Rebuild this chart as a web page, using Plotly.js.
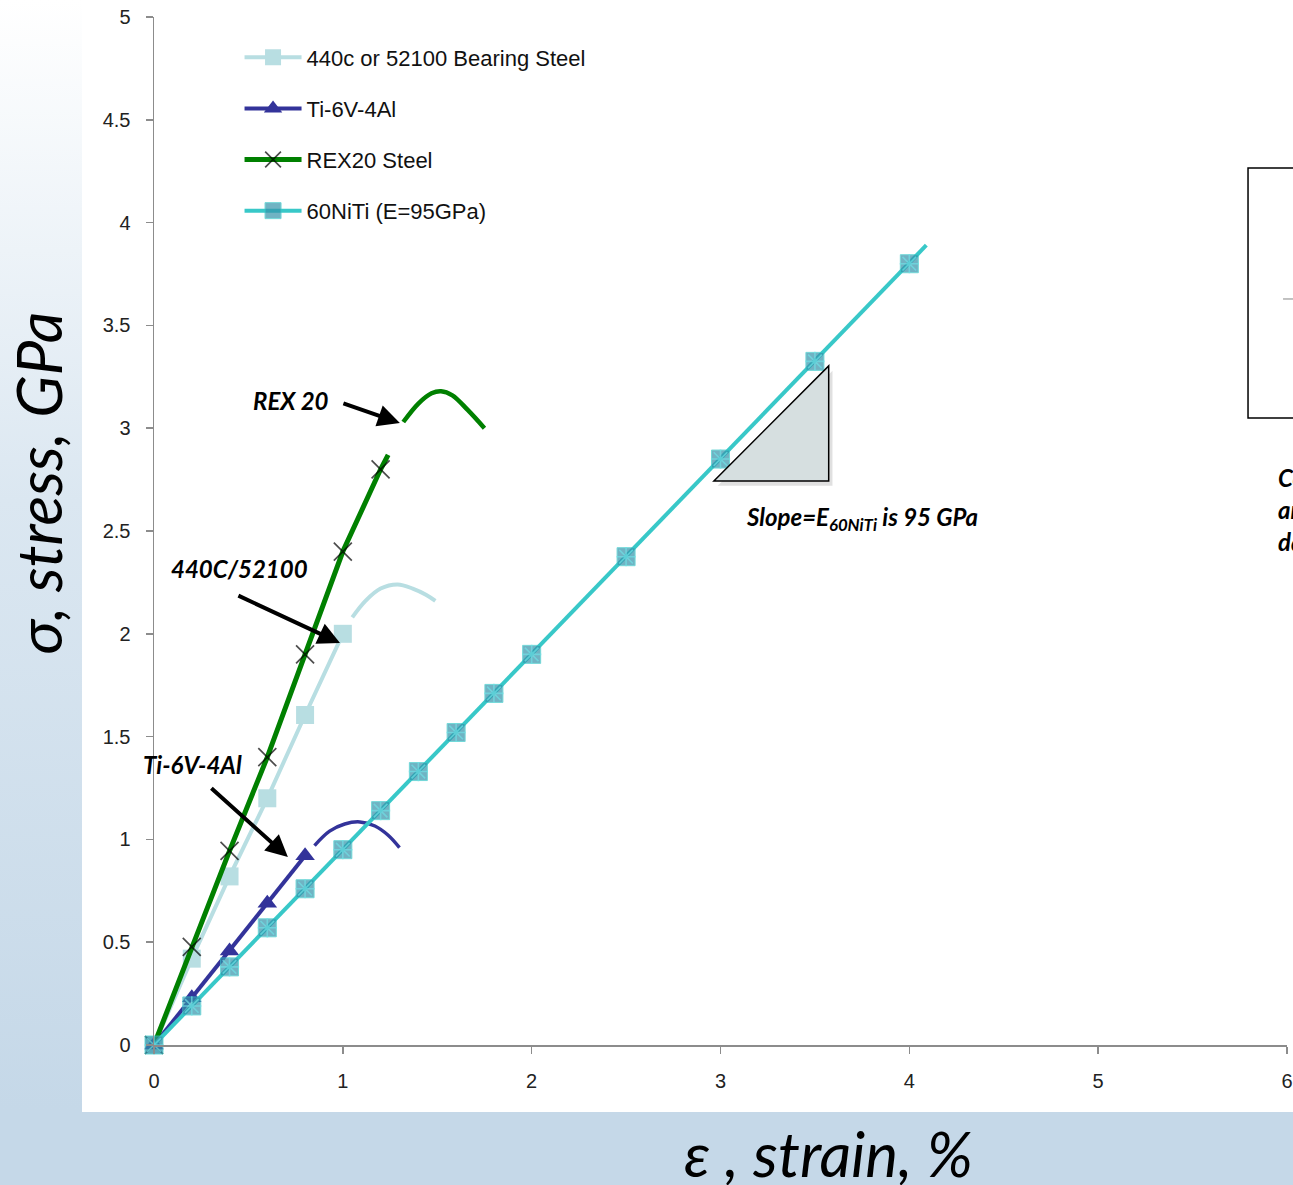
<!DOCTYPE html>
<html>
<head>
<meta charset="utf-8">
<script src="https://cdn.plot.ly/plotly-3.0.1.min.js"></script>
<style>
  html, body { margin: 0; padding: 0; width: 1293px; height: 1185px; overflow: hidden; }
  body { background: linear-gradient(to bottom, #ffffff 0px, #dbe7f1 500px, #c5d8e8 1110px, #c5d8e8 1185px); position: relative; }
  #panel { position: absolute; left: 82px; top: 0; width: 1211px; height: 1112px; background: #ffffff; }
  #chart { position: absolute; left: 0; top: 0; width: 1293px; height: 1185px; }
</style>
</head>
<body>
<div id="panel"></div>
<div id="chart"></div>
<script>
// ---- data ----
const bearingStrain = [0, 0.2, 0.4, 0.6, 0.8, 1.0];
const bearingStress = [0, 0.42, 0.82, 1.20, 1.605, 2.0];
const bearingCurveStrain = [1.05, 1.12, 1.20, 1.29, 1.37, 1.44, 1.49];
const bearingCurveStress = [2.08, 2.16, 2.22, 2.24, 2.22, 2.19, 2.16];

const tiStrain = [0, 0.2, 0.4, 0.6, 0.8];
const tiStress = [0, 0.23, 0.457, 0.69, 0.92];
const tiCurveStrain = [0.85, 0.93, 1.01, 1.09, 1.17, 1.24, 1.30];
const tiCurveStress = [0.97, 1.04, 1.075, 1.085, 1.065, 1.02, 0.96];

const rexStrain = [0, 0.2, 0.4, 0.6, 0.8, 1.0, 1.2, 1.24];
const rexStress = [0, 0.477, 0.944, 1.40, 1.90, 2.40, 2.80, 2.87];
const rexCurveStrain = [1.32, 1.40, 1.47, 1.52, 1.58, 1.66, 1.75];
const rexCurveStress = [3.03, 3.12, 3.17, 3.18, 3.16, 3.09, 3.00];

const nitiStrain = [0, 0.2, 0.4, 0.6, 0.8, 1.0, 1.2, 1.4, 1.6, 1.8, 2.0, 2.5, 3.0, 3.5, 4.0, 4.09];
const nitiStress = [0, 0.19, 0.38, 0.57, 0.76, 0.95, 1.14, 1.33, 1.52, 1.71, 1.90, 2.375, 2.85, 3.325, 3.80, 3.89];

const seriesNames = ['440c or 52100 Bearing Steel', 'Ti-6V-4Al', 'REX20 Steel', '60NiTi (E=95GPa)'];
const xTickVals = [0, 1, 2, 3, 4, 5, 6];
const yTickVals = [0, 0.5, 1, 1.5, 2, 2.5, 3, 3.5, 4, 4.5, 5];

// ---- styles ----
const cBearing = '#b8dee2';
const cTi = '#33339a';
const cRex = '#008000';
const cNitiLine = '#38c8c8';
const cNitiMarker = '#3494ab';

const rexMarkerSizes = rexStrain.map((v, i) => i === rexStrain.length - 1 ? 0 : 18);
const nitiMarkerSizes = nitiStrain.map((v, i) => i === nitiStrain.length - 1 ? 0 : 18);
const nitiStarSizes = nitiStrain.map((v, i) => i === nitiStrain.length - 1 ? 0 : 16);

const traces = [
  { x: bearingStrain, y: bearingStress, name: seriesNames[0], mode: 'lines+markers', legendgroup: 'a',
    line: { color: cBearing, width: 4 }, marker: { symbol: 'square', size: 18, color: cBearing }, cliponaxis: false },
  { x: bearingCurveStrain, y: bearingCurveStress, mode: 'lines', showlegend: false, hoverinfo: 'skip',
    line: { color: cBearing, width: 4, shape: 'spline' } },
  { x: tiStrain, y: tiStress, name: seriesNames[1], mode: 'lines+markers', legendgroup: 'b',
    line: { color: cTi, width: 4 }, marker: { symbol: 'triangle-up', size: 17, color: cTi }, cliponaxis: false },
  { x: tiCurveStrain, y: tiCurveStress, mode: 'lines', showlegend: false, hoverinfo: 'skip',
    line: { color: cTi, width: 3.5, shape: 'spline' } },
  { x: rexStrain, y: rexStress, name: seriesNames[2], mode: 'lines+markers', legendgroup: 'c',
    line: { color: cRex, width: 5 }, marker: { symbol: 'x-thin-open', size: rexMarkerSizes, color: '#000000', line: { width: 1.7, color: '#000000' } }, cliponaxis: false },
  { x: rexCurveStrain, y: rexCurveStress, mode: 'lines', showlegend: false, hoverinfo: 'skip',
    line: { color: cRex, width: 4.5, shape: 'spline' } },
  { x: nitiStrain, y: nitiStress, name: seriesNames[3], mode: 'lines+markers', legendgroup: 'd',
    line: { color: cNitiLine, width: 4 }, marker: { symbol: 'square', size: nitiMarkerSizes, color: cNitiMarker }, cliponaxis: false },
  { x: nitiStrain, y: nitiStress, mode: 'markers', showlegend: false, hoverinfo: 'skip', cliponaxis: false,
    marker: { symbol: 'asterisk-open', size: nitiStarSizes, color: '#6fe0e6', line: { width: 1.6, color: '#6fe0e6' } } }
];

const labelFont = { family: 'Lato, "Open Sans", sans-serif', size: 24, color: '#000000' };
const arrowBase = { text: '', showarrow: true, arrowhead: 2, arrowsize: 1.1, arrowwidth: 4, arrowcolor: '#000000', axref: 'x', ayref: 'y', xref: 'x', yref: 'y' };

const layout = {
  width: 1293, height: 1185,
  margin: { l: 154, r: 6, t: 17, b: 140 },
  paper_bgcolor: 'rgba(0,0,0,0)',
  plot_bgcolor: 'rgba(0,0,0,0)',
  showlegend: true,
  legend: {
    x: 0.0755, y: 0.981, xanchor: 'left', yanchor: 'top',
    bgcolor: 'rgba(0,0,0,0)', traceorder: 'grouped', tracegroupgap: 19.5, itemwidth: 57,
    font: { family: '"Liberation Sans", Arial, sans-serif', size: 22, color: '#111111' }
  },
  xaxis: {
    range: [0, 6], tickvals: xTickVals, showgrid: false, zeroline: false,
    showline: true, linecolor: '#8c8c8c', linewidth: 1.5,
    ticks: 'outside', ticklen: 7, tickcolor: '#8c8c8c', tickwidth: 1.5,
    tickfont: { family: '"Liberation Sans", Arial, sans-serif', size: 20, color: '#222222' },
    ticklabelstandoff: 10
  },
  yaxis: {
    range: [0, 5], tickvals: yTickVals, showgrid: false, zeroline: false,
    showline: true, linecolor: '#8c8c8c', linewidth: 1.5,
    ticks: 'outside', ticklen: 7, tickcolor: '#8c8c8c', tickwidth: 1.5,
    tickfont: { family: '"Liberation Sans", Arial, sans-serif', size: 20, color: '#222222' },
    ticklabelstandoff: 11
  },
  shapes: [
    { type: 'path', xref: 'x', yref: 'y', path: 'M 2.985,2.72 L 3.593,2.72 L 3.593,3.28 Z',
      fillcolor: 'rgba(0,0,0,0.12)', line: { width: 0 }, layer: 'below' },
    { type: 'path', xref: 'x', yref: 'y', path: 'M 2.965,2.743 L 3.573,2.743 L 3.573,3.303 Z',
      fillcolor: '#d6dfe0', line: { color: '#000000', width: 1.5 }, layer: 'above' },
    { type: 'rect', xref: 'paper', yref: 'paper', x0: 0.9656, x1: 1.08, y0: 0.6099, y1: 0.853,
      line: { color: '#000000', width: 1.5 }, fillcolor: 'rgba(0,0,0,0)' },
    { type: 'line', xref: 'paper', yref: 'paper', x0: 0.9965, x1: 1.01, y0: 0.7257, y1: 0.7257,
      line: { color: '#999999', width: 1.2 } }
  ],
  annotations: [
    { text: '<b><i>REX 20</i></b>', x: 0.725, y: 3.137, xref: 'x', yref: 'y', showarrow: false, font: labelFont },
    Object.assign({}, arrowBase, { x: 1.302, y: 3.025, ax: 0.995, ay: 3.123 }),
    { text: '<b><i>440C/52100</i></b>', x: 0.455, y: 2.32, xref: 'x', yref: 'y', showarrow: false, font: labelFont },
    Object.assign({}, arrowBase, { x: 0.985, y: 1.955, ax: 0.439, ay: 2.189 }),
    { text: '<b><i>Ti-6V-4Al</i></b>', x: 0.206, y: 1.362, xref: 'x', yref: 'y', showarrow: false, font: labelFont },
    Object.assign({}, arrowBase, { x: 0.709, y: 0.914, ax: 0.296, ay: 1.255 }),
    { text: '<b><i>Slope=E<sub>60NiTi</sub> is 95 GPa</i></b>', x: 3.748, y: 2.563, xref: 'x', yref: 'y', showarrow: false, font: labelFont },
    { text: '<b><i>Compare</i></b>', x: 0.9903, y: 2.758, xref: 'paper', yref: 'y', xanchor: 'left', showarrow: false, font: labelFont },
    { text: '<b><i>and</i></b>', x: 0.9903, y: 2.607, xref: 'paper', yref: 'y', xanchor: 'left', showarrow: false, font: labelFont },
    { text: '<b><i>data</i></b>', x: 0.9903, y: 2.451, xref: 'paper', yref: 'y', xanchor: 'left', showarrow: false, font: labelFont },
    { text: '<i>σ, stress, GPa</i>', x: -0.137, y: 0.547, xref: 'paper', yref: 'paper', textangle: -90,
      showarrow: false, font: { family: 'Lato, "Open Sans", sans-serif', size: 62, color: '#000000' } },
    { text: '<i>ε , strain, %</i>', x: 0.595, y: -0.143, xref: 'paper', yref: 'paper',
      showarrow: false, font: { family: 'Lato, "Open Sans", sans-serif', size: 62, color: '#000000' } }
  ]
};

Plotly.newPlot('chart', traces, layout, { displayModeBar: false, staticPlot: true });
</script>
</body>
</html>
